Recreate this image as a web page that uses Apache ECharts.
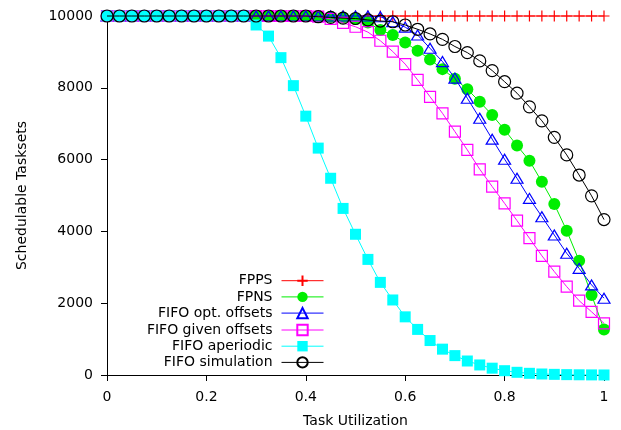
<!DOCTYPE html>
<html>
<head>
<meta charset="utf-8">
<script src="https://cdn.jsdelivr.net/npm/echarts@6/dist/echarts.min.js"></script>
<style>html,body{margin:0;padding:0;background:#fff;}#c{width:621px;height:430px;}</style>
</head>
<body>
<div id="c"></div>
<script>
var utilization = [0,0.025,0.05,0.075,0.1,0.125,0.15,0.175,0.2,0.225,0.25,0.275,0.3,0.325,0.35,0.375,0.4,0.425,0.45,0.475,0.5,0.525,0.55,0.575,0.6,0.625,0.65,0.675,0.7,0.725,0.75,0.775,0.8,0.825,0.85,0.875,0.9,0.925,0.95,0.975,1];
var xTickLabels = ['0','0.2','0.4','0.6','0.8','1'];
var yTickLabels = ['0','2000','4000','6000','8000','10000'];
var fpps = [10000,10000,10000,10000,10000,10000,10000,10000,10000,10000,10000,10000,10000,10000,10000,10000,10000,10000,10000,10000,10000,10000,10000,10000,10000,10000,10000,10000,10000,10000,10000,10000,10000,10000,10000,10000,10000,10000,10000,10000,10000];
var fpns = [10000,10000,10000,10000,10000,10000,10000,10000,10000,10000,10000,10000,10000,10000,10000,10000,10000,10000,9980,9960,9920,9820,9610,9470,9260,9030,8790,8520,8250,7960,7610,7240,6830,6390,5970,5380,4760,4020,3180,2230,1270];
var fifoOpt = [10000,10000,10000,10000,10000,10000,10000,10000,10000,10000,10000,10000,10000,10000,10000,10000,10000,10000,10000,10000,10000,10000,9980,9840,9690,9470,9100,8730,8270,7710,7150,6570,6010,5480,4920,4410,3900,3390,2970,2510,2140];
var fifoGiven = [10000,10000,10000,10000,10000,10000,10000,10000,10000,10000,10000,10000,10000,10000,10000,10000,10000,9980,9920,9810,9700,9550,9310,9010,8660,8220,7750,7290,6780,6270,5730,5250,4780,4300,3810,3320,2880,2460,2070,1760,1440];
var fifoAperiodic = [10000,10000,10000,10000,10000,10000,10000,10000,10000,10000,10000,10000,9750,9440,8840,8060,7210,6320,5480,4640,3920,3220,2580,2090,1620,1270,960,720,540,390,280,190,120,75,47,28,18,10,6,3,1];
var fifoSim = [10000,10000,10000,10000,10000,10000,10000,10000,10000,10000,10000,10000,10000,10000,10000,10000,10000,9980,9960,9940,9930,9890,9860,9840,9750,9630,9500,9350,9150,8980,8750,8480,8170,7850,7470,7080,6620,6130,5570,4990,4330];
var seriesNames = ['FPPS','FPNS','FIFO opt. offsets','FIFO given offsets','FIFO aperiodic','FIFO simulation'];

function pairs(vals){ return utilization.map(function(u,i){ return [u, vals[i]]; }); }
var FONT = 'DejaVu Sans';
var styles = [
  {c:'#ff0000', sym:'path://M5,0L5,10M0,5L10,5', size:11, fill:'none', bw:1.2},
  {c:'#00ee00', sym:'circle', size:12, fill:'#00ee00', bw:0},
  {c:'#0000ff', sym:'triangle', size:[12,10], fill:'none', bw:1.2},
  {c:'#ff00ff', sym:'rect', size:11, fill:'none', bw:1.2},
  {c:'#00ffff', sym:'rect', size:11, fill:'#00ffff', bw:0},
  {c:'#000000', sym:'circle', size:12, fill:'none', bw:1.2}
];
var datasets = [fpps, fpns, fifoOpt, fifoGiven, fifoAperiodic, fifoSim];
var series = datasets.map(function(d,k){
  var s = styles[k];
  return {
    name: seriesNames[k], type:'line', data: pairs(d),
    symbol: s.sym, symbolSize: s.size, showAllSymbol: true, clip: false,
    lineStyle: {color: s.c, width: 1},
    itemStyle: {color: s.fill, borderColor: s.c, borderWidth: s.bw},
    emphasis: {disabled: true}, z: 2 + k
  };
});
var chart = echarts.init(document.getElementById('c'), null, {renderer:'canvas'});
chart.setOption({
  animation: false,
  backgroundColor: '#ffffff',
  textStyle: {fontFamily: FONT},
  grid: {left: 107, right: 17, top: 16, bottom: 55, containLabel: false, outerBoundsMode: 'none'},
  legend: {
    data: seriesNames, orient: 'vertical', align: 'right',
    right: 297, top: 273, padding: 0, itemGap: 1.5,
    itemWidth: 42, itemHeight: 13,
    lineStyle: {width: 1},
    textStyle: {fontFamily: FONT, fontSize: 14, color: '#000', padding: [0,4,0,0]}
  },
  xAxis: {
    type: 'value', min: 0, max: 1, interval: 0.2,
    name: 'Task Utilization', nameLocation: 'middle', nameGap: 39,
    nameTextStyle: {fontFamily: FONT, fontSize: 14, color: '#000'},
    axisLine: {show: true, onZero: false, lineStyle: {color: '#000', width: 1}},
    axisTick: {show: true, length: 6, lineStyle: {color: '#000'}},
    axisLabel: {fontFamily: FONT, fontSize: 14, color: '#000', margin: 15,
      formatter: function(v){ return xTickLabels[Math.round(v/0.2)]; }},
    splitLine: {show: false}
  },
  yAxis: {
    type: 'value', min: 0, max: 10000, interval: 2000,
    name: 'Schedulable Tasksets', nameLocation: 'middle', nameGap: 78, nameRotate: 90,
    nameTextStyle: {fontFamily: FONT, fontSize: 14, color: '#000'},
    axisLine: {show: true, lineStyle: {color: '#000', width: 1}},
    axisTick: {show: true, length: 6, lineStyle: {color: '#000'}},
    axisLabel: {fontFamily: FONT, fontSize: 14, color: '#000', margin: 14,
      formatter: function(v){ return yTickLabels[Math.round(v/2000)]; }},
    splitLine: {show: false}
  },
  series: series
});
</script>
</body>
</html>
